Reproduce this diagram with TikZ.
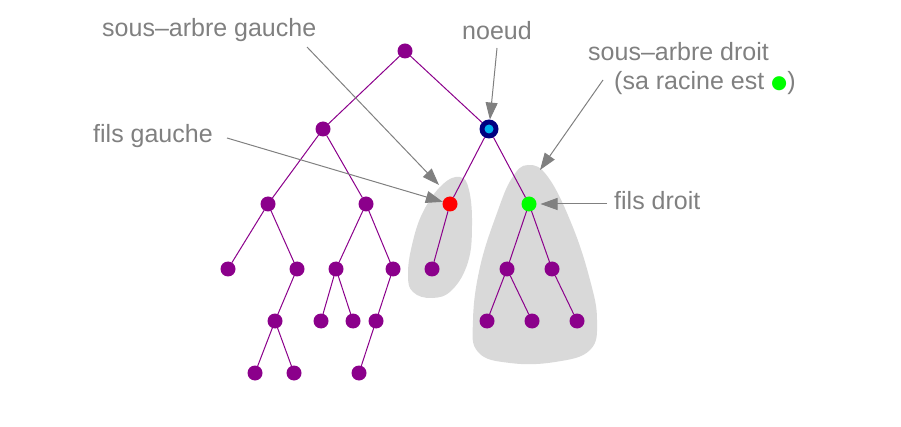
\documentclass[tikz,border=0pt]{standalone}
\usepackage{fontspec}
\setmainfont{Liberation Sans}
\newfontfamily\symfont{DejaVu Sans}
\usetikzlibrary{arrows.meta}
\definecolor{treepurple}{RGB}{139,0,139}
\definecolor{blobgray}{RGB}{217,217,217}
\definecolor{labelgray}{RGB}{128,128,128}
\definecolor{navyring}{RGB}{0,0,128}
\definecolor{brightgreen}{RGB}{0,255,0}
\begin{document}
\begin{tikzpicture}[x=1pt,y=-1pt,
  dot/.style={circle,fill=treepurple,inner sep=0pt,outer sep=0pt,minimum size=15pt},
  edge/.style={treepurple,line width=1pt},
  lbl/.style={text=labelgray,font=\fontsize{25}{30}\selectfont,inner sep=0pt,anchor=base west},
  callout/.style={labelgray,line width=1pt,-{Triangle[length=17pt,width=12pt]}},
  blob/.style={fill=blobgray,draw=none}]
\useasboundingbox (0,0) rectangle (901,427);

% subtree blobs
\fill[blob] plot[smooth cycle, tension=0.7] coordinates {(460,177) (469,190) (472,225) (468,262) (452,290) (432,298) (413,292) (408,275) (412,245) (423,212) (442,185)};
\fill[blob] plot[smooth cycle, tension=0.7] coordinates {(528,165) (548,177) (572,225) (590,280) (597,320) (590,350) (555,362) (510,363) (478,352) (473,320) (480,267) (497,213) (512,178)};

% tree nodes
\node[dot] (root) at (405,51) {};
\node[dot] (L) at (323,129) {};
\node[circle,fill=navyring,inner sep=0pt,outer sep=0pt,minimum size=19pt] (N) at (489,129) {};
\node[circle,fill=cyan,inner sep=0pt,minimum size=9pt] (Nc) at (N) {};
\node[dot] (LL) at (268,204) {};
\node[dot] (LR) at (366,204) {};
\node[dot,fill=red] (NL) at (450,204) {};
\node[dot,fill=brightgreen] (NR) at (529,204) {};
\node[dot] (LLL) at (228,269) {};
\node[dot] (LLR) at (297,269) {};
\node[dot] (LRL) at (336,269) {};
\node[dot] (LRR) at (393,269) {};
\node[dot] (NLL) at (432,269) {};
\node[dot] (NRL) at (507,269) {};
\node[dot] (NRR) at (552,269) {};
\node[dot] (LLRL) at (275,321) {};
\node[dot] (LRLL) at (321,321) {};
\node[dot] (LRLR) at (353,321) {};
\node[dot] (LRRL) at (376,321) {};
\node[dot] (NRLL) at (487,321) {};
\node[dot] (NRLR) at (532,321) {};
\node[dot] (NRRR) at (577,321) {};
\node[dot] (LLRLL) at (255,373) {};
\node[dot] (LLRLR) at (294,373) {};
\node[dot] (LRRLL) at (359,373) {};

% tree edges
\draw[edge] (root) -- (L);
\draw[edge] (root) -- (N);
\draw[edge] (L) -- (LL);
\draw[edge] (L) -- (LR);
\draw[edge] (N) -- (NL);
\draw[edge] (N) -- (NR);
\draw[edge] (LL) -- (LLL);
\draw[edge] (LL) -- (LLR);
\draw[edge] (LR) -- (LRL);
\draw[edge] (LR) -- (LRR);
\draw[edge] (NL) -- (NLL);
\draw[edge] (NR) -- (NRL);
\draw[edge] (NR) -- (NRR);
\draw[edge] (LLR) -- (LLRL);
\draw[edge] (LRL) -- (LRLL);
\draw[edge] (LRL) -- (LRLR);
\draw[edge] (LRR) -- (LRRL);
\draw[edge] (NRL) -- (NRLL);
\draw[edge] (NRL) -- (NRLR);
\draw[edge] (NRR) -- (NRRR);
\draw[edge] (LLRL) -- (LLRLL);
\draw[edge] (LLRL) -- (LLRLR);
\draw[edge] (LRRL) -- (LRRLL);

% labels
\node[lbl] (tSAG) at (102,37) {sous–arbre gauche};
\node[lbl] (tNoeud) at (462,40) {noeud};
\node[lbl] (tFG) at (93,143) {fils gauche};
\node[lbl] (tSAD) at (588,61) {sous–arbre droit};
\node[lbl] (tRacine) at (614,90) {(sa racine est \raisebox{1pt}{\symfont\fontsize{18.5}{22}\selectfont\textcolor{brightgreen}{●}})};
\node[lbl] (tFD) at (614,210) {fils droit};

% callout anchors
\coordinate (sSAG) at (307,47);
\coordinate (eSAG) at (439,185);
\coordinate (sNoeud) at (497,48);
\coordinate (sFG) at (227,138);
\coordinate (sSAD) at (603,80);
\coordinate (eSAD) at (540,170);
\coordinate (sFD) at (607,204);

\draw[callout] (sSAG) -- (eSAG);
\draw[callout] (sNoeud) -- (N);
\draw[callout] (sFG) -- (NL);
\draw[callout] (sSAD) -- (eSAD);
\draw[callout,shorten >=4pt] (sFD) -- (NR);
\end{tikzpicture}
\end{document}
